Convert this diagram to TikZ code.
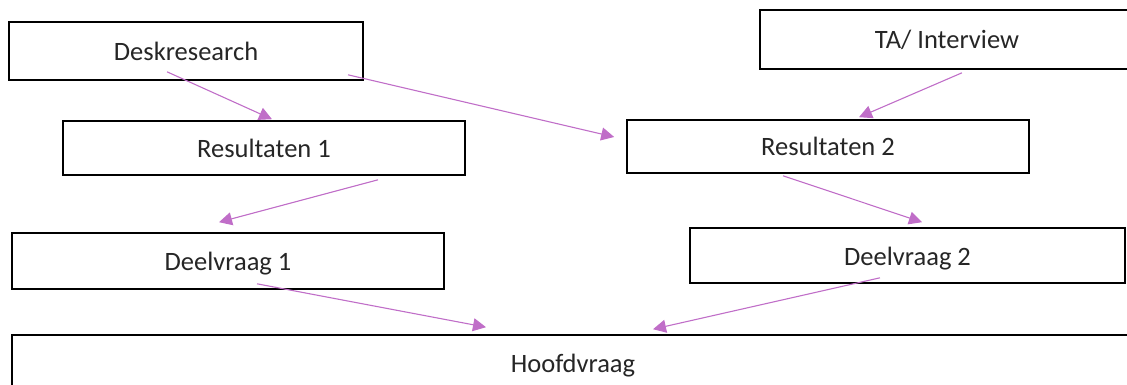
\documentclass[tikz,border=0pt]{standalone}
\usepackage{fontspec}
\setmainfont{Carlito}
\usetikzlibrary{arrows.meta}
\definecolor{arrcol}{RGB}{192,110,200}
\begin{document}
\begin{tikzpicture}[x=1pt,y=-1pt,
  box/.style={draw=black, line width=1.6pt, fill=white, inner sep=0pt,
    text height=23pt, text depth=4pt,
    font=\fontsize{26.5}{30}\selectfont, text=black!85},
  arr/.style={draw=arrcol, line width=1.1pt, -{Triangle[length=13pt,width=13pt]}}]
\useasboundingbox (0,0) rectangle (1127,385);
\node[box, minimum width=353.5pt, minimum height=58pt] (desk) at (186,51) {Deskresearch};
\node[box, minimum width=374pt, minimum height=59pt] (ta) at (947,39.5) {TA/ Interview};
\node[box, minimum width=402pt, minimum height=54pt] (res1) at (264,148) {Resultaten 1};
\node[box, minimum width=402pt, minimum height=53pt] (res2) at (828,146.5) {Resultaten 2};
\node[box, minimum width=432pt, minimum height=56pt] (deel1) at (228,261) {Deelvraag 1};
\node[box, minimum width=435pt, minimum height=55pt] (deel2) at (907.5,255.5) {Deelvraag 2};
\node[box, minimum width=1122pt, minimum height=56pt] (hoofd) at (573,363) {Hoofdvraag};
\draw[arr] ([shift={(-19,-9)}]desk.south) -- ([shift={(8,-1)}]res1.north);
\draw[arr] ([shift={(162,-6)}]desk.south) -- ([shift={(-12,-9.5)}]res2.west);
\draw[arr] ([shift={(15,3)}]ta.south) -- ([shift={(31,-2)}]res2.north);
\draw[arr] ([shift={(114,4)}]res1.south) -- ([shift={(-9,-10)}]deel1.north);
\draw[arr] ([shift={(-45,2)}]res2.south) -- ([shift={(14.5,-5)}]deel2.north);
\draw[arr] ([shift={(29,-6)}]deel1.south) -- ([shift={(-87,-7)}]hoofd.north);
\draw[arr] ([shift={(-27.5,-6)}]deel2.south) -- ([shift={(80,-5)}]hoofd.north);
\end{tikzpicture}
\end{document}
